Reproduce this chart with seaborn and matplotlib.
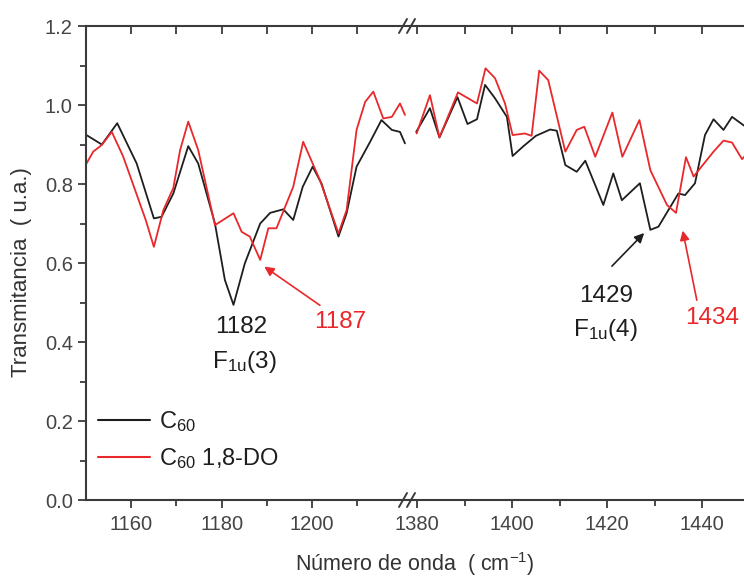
import numpy as np
import pandas as pd
import matplotlib
matplotlib.use("Agg")
import matplotlib.pyplot as plt
import seaborn as sns
from matplotlib.lines import Line2D
from matplotlib.ticker import MultipleLocator, FixedLocator

# C60 (black) - low wavenumber window
c60_x_lo = [1150.1, 1153.5, 1156.9, 1161.2, 1165.0, 1166.7, 1169.3, 1172.6, 1174.8, 1178.5,
            1180.7, 1182.6, 1185.1, 1188.5, 1190.7, 1193.6, 1195.8, 1197.9, 1200.1, 1202.1,
            1205.8, 1207.6, 1209.8, 1212.8, 1215.3, 1217.6, 1219.4, 1220.5]
c60_y_lo = [0.924, 0.900, 0.954, 0.852, 0.713, 0.717, 0.776, 0.896, 0.852, 0.700,
            0.557, 0.494, 0.599, 0.700, 0.727, 0.736, 0.709, 0.793, 0.844, 0.800,
            0.667, 0.726, 0.844, 0.907, 0.962, 0.937, 0.932, 0.903]

# C60 1,8-DO (red) - low wavenumber window
do_x_lo = [1150.1, 1151.6, 1153.5, 1155.7, 1158.2, 1160.6, 1163.2, 1165.0, 1167.1, 1169.3,
           1170.8, 1172.6, 1174.8, 1178.5, 1182.6, 1184.4, 1186.2, 1188.5, 1190.3, 1192.1,
           1195.8, 1198.0, 1201.7, 1205.8, 1207.6, 1209.8, 1211.7, 1213.5, 1215.7, 1217.6,
           1219.4, 1220.5]
do_y_lo = [0.852, 0.882, 0.899, 0.932, 0.870, 0.793, 0.709, 0.641, 0.734, 0.790,
           0.886, 0.958, 0.886, 0.696, 0.726, 0.679, 0.667, 0.608, 0.688, 0.688,
           0.793, 0.907, 0.810, 0.675, 0.734, 0.937, 1.008, 1.034, 0.966, 0.970,
           1.004, 0.975]

# C60 (black) - high wavenumber window
c60_x_hi = [1379.8, 1382.7, 1384.7, 1388.5, 1390.6, 1392.6, 1394.3, 1396.4, 1398.9, 1400.1,
            1402.4, 1405.0, 1408.0, 1409.4, 1411.2, 1413.6, 1415.4, 1419.2, 1421.3, 1423.1,
            1426.9, 1429.1, 1430.8, 1435.0, 1436.4, 1438.5, 1440.6, 1442.4, 1444.5, 1446.3,
            1448.7, 1450.5]
c60_y_hi = [0.932, 0.992, 0.918, 1.020, 0.952, 0.964, 1.051, 1.017, 0.970, 0.871,
            0.896, 0.922, 0.938, 0.935, 0.848, 0.831, 0.859, 0.747, 0.827, 0.759,
            0.802, 0.684, 0.692, 0.776, 0.772, 0.802, 0.924, 0.964, 0.937, 0.970,
            0.949, 0.935]

# C60 1,8-DO (red) - high wavenumber window
do_x_hi = [1379.9, 1382.7, 1384.7, 1388.6, 1392.6, 1394.4, 1396.4, 1398.5, 1400.1, 1402.7,
           1404.1, 1405.7, 1407.6, 1411.2, 1413.6, 1415.2, 1417.5, 1421.1, 1423.2, 1426.8,
           1429.1, 1432.6, 1434.5, 1436.6, 1438.2, 1442.4, 1444.5, 1446.3, 1448.4, 1450.5]
do_y_hi = [0.928, 1.025, 0.918, 1.032, 1.004, 1.093, 1.068, 1.004, 0.924, 0.928,
           0.922, 1.087, 1.063, 0.882, 0.937, 0.945, 0.869, 0.981, 0.869, 0.962,
           0.835, 0.747, 0.727, 0.868, 0.819, 0.882, 0.910, 0.905, 0.863, 0.890]

ticks_lo = [1160, 1180, 1200]
ticks_hi = [1380, 1400, 1420, 1440]

BLACK = "#1e1e1e"
RED = "#e8282b"
GREY = "#3a3a3a"

sns.set_theme(style="ticks")
plt.rcParams["font.family"] = ["Liberation Sans", "DejaVu Sans"]
plt.rcParams["mathtext.fontset"] = "custom"
plt.rcParams["mathtext.rm"] = "Liberation Sans"
plt.rcParams["mathtext.it"] = "Liberation Sans"
plt.rcParams["mathtext.default"] = "rm"

fig = plt.figure(figsize=(7.44, 5.8), dpi=100)
ax1 = fig.add_axes([86 / 744, 0.1379, 323.5 / 744, 0.8172])
ax2 = fig.add_axes([410 / 744, 0.1379, 342 / 744, 0.8172])

lo = pd.concat([pd.DataFrame({"x": c60_x_lo, "y": c60_y_lo, "s": "C60"}),
                pd.DataFrame({"x": do_x_lo, "y": do_y_lo, "s": "DO"})])
hi = pd.concat([pd.DataFrame({"x": c60_x_hi, "y": c60_y_hi, "s": "C60"}),
                pd.DataFrame({"x": do_x_hi, "y": do_y_hi, "s": "DO"})])
pal = {"C60": BLACK, "DO": RED}

for ax, df, tk in [(ax1, lo, ticks_lo), (ax2, hi, ticks_hi)]:
    sns.lineplot(data=df, x="x", y="y", hue="s", palette=pal, estimator=None,
                 sort=False, linewidth=1.3, legend=False, ax=ax)
    ax.set_ylim(0, 1.2)
    ax.set_xlabel("")
    ax.set_ylabel("")
    ax.xaxis.set_major_locator(FixedLocator(tk))
    ax.xaxis.set_minor_locator(FixedLocator([t + 10 for t in tk]))
    ax.tick_params(axis="x", which="both", direction="out", bottom=True, top=False,
                   colors=GREY, labelsize=14.5, width=1.3, labelcolor="#444444")
    ax.tick_params(axis="x", which="major", length=6, pad=5)
    ax.tick_params(axis="x", which="minor", length=4)
    for sp in ax.spines.values():
        sp.set_color(GREY)
        sp.set_linewidth(1.5)
    # inward ticks on top edge
    sec = ax.secondary_xaxis("top")
    sec.xaxis.set_major_locator(FixedLocator(tk + [t + 10 for t in tk]))
    sec.tick_params(direction="in", length=6, width=1.3, colors=GREY, labeltop=False)
    sec.spines["top"].set_visible(False)

ax1.set_xlim(1150, 1221.5)
ax2.set_xlim(1378.5, 1450.5)
ax1.spines["right"].set_visible(False)
ax2.spines["left"].set_visible(False)
ax2.spines["right"].set_visible(False)
ax2.set_yticks([])

ax1.yaxis.set_major_locator(MultipleLocator(0.2))
ax1.yaxis.set_minor_locator(MultipleLocator(0.1))
ax1.yaxis.set_major_formatter(matplotlib.ticker.FormatStrFormatter("%.1f"))
ax1.tick_params(axis="y", which="both", direction="out", colors=GREY, width=1.3,
                labelsize=14.5, labelcolor="#444444")
ax1.tick_params(axis="y", which="major", length=6)
ax1.tick_params(axis="y", which="minor", length=4)

# axis break marks
for yb in (26, 500):
    for xb in (403, 411):
        fig.add_artist(Line2D([(xb - 4) / 744, (xb + 4) / 744],
                              [1 - (yb + 7) / 580, 1 - (yb - 7) / 580],
                              color=GREY, linewidth=1.4))

# annotations
tkw = dict(ha="center", va="center", fontsize=17.5)
ax1.text(1184.3, 0.438, "1182", color=BLACK, **tkw)
ax1.text(1185.1, 0.349, r"F$_{1u}$(3)", color=BLACK, **tkw)
ax1.text(1206.1, 0.451, "1187", color=RED, **tkw)
ax1.annotate("", xy=(1188.9, 0.595), xytext=(1202.2, 0.489),
             arrowprops=dict(arrowstyle="-|>", color=RED, lw=1.2, mutation_scale=14))
ax2.text(1419.8, 0.516, "1429", color=BLACK, **tkw)
ax2.text(1419.6, 0.430, r"F$_{1u}$(4)", color=BLACK, **tkw)
ax2.text(1442.1, 0.461, "1434", color=RED, **tkw)
ax2.annotate("", xy=(1428.2, 0.681), xytext=(1420.6, 0.587),
             arrowprops=dict(arrowstyle="-|>", color=BLACK, lw=1.2, mutation_scale=14))
ax2.annotate("", xy=(1435.8, 0.689), xytext=(1439.0, 0.499),
             arrowprops=dict(arrowstyle="-|>", color=RED, lw=1.2, mutation_scale=14))

handles = [Line2D([], [], color=BLACK, lw=1.5), Line2D([], [], color=RED, lw=1.5)]
ax1.legend(handles, [r"C$_{60}$", r"C$_{60}$ 1,8-DO"], loc="lower left",
           bbox_to_anchor=(12 / 323.5, 29 / 474), frameon=False, fontsize=17,
           handlelength=2.2, handletextpad=0.4, labelspacing=0.5, borderpad=0,
           borderaxespad=0, labelcolor=BLACK)

fig.text(22 / 744, 1 - 272 / 580, "Transmitancia  ( u.a.)", rotation=90,
         ha="center", va="center", fontsize=16, color="#333333")
fig.text(415 / 744, 1 - 564 / 580, r"Número de onda  ( cm$^{-1}$)",
         ha="center", va="center", fontsize=15.5, color="#333333")

fig.savefig("out.png", dpi=100)
